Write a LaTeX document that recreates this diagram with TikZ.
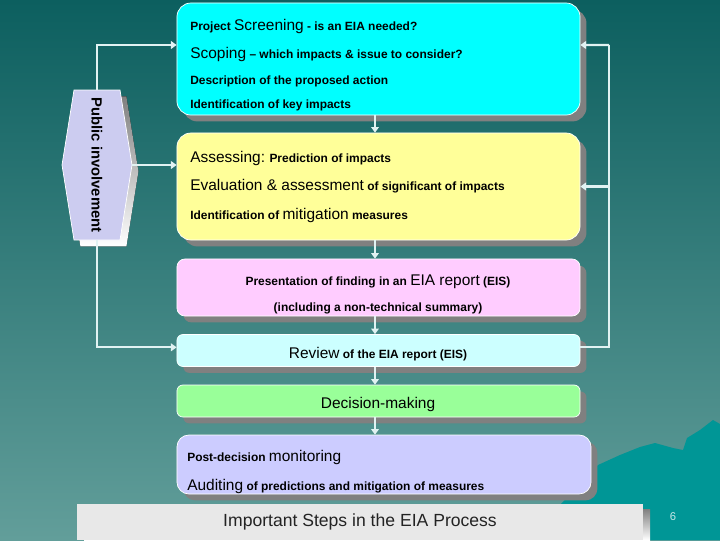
\documentclass[tikz,border=0pt]{standalone}
\usepackage{fontspec}
\setmainfont{Liberation Sans}
\usetikzlibrary{shadows,arrows.meta}

\definecolor{bgtop}{RGB}{12,95,95}
\definecolor{bgbot}{RGB}{98,158,154}
\definecolor{mount}{RGB}{0,150,150}
\definecolor{flowline}{RGB}{225,242,242}
\definecolor{shade}{RGB}{128,128,128}
\definecolor{scrcyan}{RGB}{0,255,255}
\definecolor{assyellow}{RGB}{255,255,153}
\definecolor{reppink}{RGB}{255,204,255}
\definecolor{revcyan}{RGB}{204,255,255}
\definecolor{decgreen}{RGB}{153,255,153}
\definecolor{monlav}{RGB}{204,204,255}
\definecolor{pubhex}{RGB}{204,204,240}
\definecolor{barbg}{RGB}{232,232,232}
\definecolor{titletext}{RGB}{35,35,35}
\definecolor{pagenum}{RGB}{200,232,232}

\newcommand{\eiasmall}{\fontsize{8.5}{10}\selectfont\bfseries}
\newcommand{\eiabig}[1]{{\fontsize{11}{13}\selectfont\mdseries #1}}

\begin{document}
\begin{tikzpicture}[x=0.025cm, y=-0.025cm,
    stepbox/.style={rectangle, draw=white, line width=0.5pt, rounded corners=#1, minimum width=10.075cm,
        drop shadow={shadow xshift=0.16cm, shadow yshift=-0.16cm, fill=shade, opacity=1}},
    stepbox/.default=0.3cm,
    txt/.style={anchor=base west, inner sep=0pt, font=\eiasmall},
    ctxt/.style={anchor=base, inner sep=0pt, font=\eiasmall},
    flow/.style={draw=flowline, line width=1.6pt, -{Triangle[length=4pt,width=5.5pt]}},
    link/.style={draw=flowline, line width=1.6pt}
]
\useasboundingbox (0,0) rectangle (720,540);

% Background and mountain
\fill[top color=bgtop, bottom color=bgbot] (0,0) rectangle (720,540);
\fill[mount] (560,505) -- (598,465) -- (620,455) -- (640,447) -- (655,443) -- (673,448)
    -- (683,450) -- (687,438) -- (700,430) -- (713,420) -- (720,424) -- (720,540) -- (560,540) -- cycle;

% Steps
\node[stepbox=0.35cm, fill=scrcyan, minimum height=2.8cm] (scr) at (378.5,59) {};
\node[stepbox=0.35cm, fill=assyellow, minimum height=2.675cm] (ass) at (378.5,186.5) {};
\node[stepbox=0.2cm, fill=reppink, minimum height=1.425cm] (rep) at (378.5,287.5) {};
\node[stepbox=0.15cm, fill=revcyan, minimum height=0.8cm] (rev) at (378.5,350.5) {};
\node[stepbox=0.15cm, fill=decgreen, minimum height=0.8cm] (dec) at (378.5,401) {};
\node[stepbox=0.3cm, fill=monlav, minimum width=10.35cm, minimum height=1.475cm] (mon) at (384,464.5) {};

% Texts of the steps
\node[txt] (scr1) at (190,30) {Project \eiabig{Screening} - is an EIA needed?};
\node[txt] (scr2) at (190,58) {\eiabig{Scoping} -- which impacts \& issue to consider?};
\node[txt] (scr3) at (190,84.5) {Description of the proposed action};
\node[txt] (scr4) at (190,108.5) {Identification of key impacts};
\node[txt] (ass1) at (190,162) {\eiabig{Assessing:} Prediction of impacts};
\node[txt] (ass2) at (190,190.5) {\eiabig{Evaluation \& assessment} of significant of impacts};
\node[txt] (ass3) at (190,219.5) {Identification of \eiabig{mitigation} measures};
\node[ctxt] (rep1) at (378,285) {Presentation of finding in an \eiabig{EIA report} (EIS)};
\node[ctxt] (rep2) at (378,311) {(including a non-technical summary)};
\node[ctxt] (rev1) at (378,358.5) {\eiabig{Review} of the EIA report (EIS)};
\node[ctxt] (dec1) at (378,408) {\eiabig{Decision-making}};
\node[txt] (mon1) at (187,461) {Post-decision \eiabig{monitoring}};
\node[txt] (mon2) at (187,490) {\eiabig{Auditing} of predictions and mitigation of measures};

% Public involvement
\fill[shade, xshift=0.16cm, yshift=-0.16cm] (74,90) -- (120,90) -- (132,165) -- (120,240) -- (74,240) -- (62,165) -- cycle;
\filldraw[fill=pubhex, draw=white, line width=0.5pt] (74,90) -- (120,90) -- (132,165) -- (120,240) -- (74,240) -- (62,165) -- cycle;
\node[inner sep=0pt, minimum width=1.75cm, minimum height=3.75cm, font=\fontsize{10.5}{12}\selectfont\bfseries] (pub) at (97,165)
    {\rotatebox{-90}{Public involvement}};

% Arrows down the spine
\coordinate (spine) at (375,0);
\draw[flow] (scr.south -| spine) -- (ass.north -| spine);
\draw[flow] (ass.south -| spine) -- (rep.north -| spine);
\draw[flow] (rep.south -| spine) -- (rev.north -| spine);
\draw[flow] (rev.south -| spine) -- (dec.north -| spine);
\draw[flow] (dec.south -| spine) -- (mon.north -| spine);

% Public involvement links
\draw[flow] (pub.north) |- ([yshift=0.35cm]scr.west);
\draw[flow] (pub.east) -- (pub.east -| ass.west);
\draw[flow] (pub.south) |- ([yshift=0.08cm]rev.west);

% Feedback from review
\coordinate (rbus) at (609,45);
\draw[link] ([yshift=0.08cm]rev.east) -| (rbus);
\draw[flow] (rbus) -- ([yshift=0.35cm]scr.east);
\draw[flow] (rbus |- ass.east) -- (ass.east);

% Title bar
\fill[shade] (84,509) rectangle (650,540);
\node[fill=barbg, minimum width=14.15cm, minimum height=0.9cm, inner sep=0pt, text=titletext,
    font=\fontsize{12.5}{14}\selectfont] (title) at (360,522) {Important Steps in the EIA Process};
\node[text=pagenum, font=\fontsize{8}{10}\selectfont] (pgno) at (673,517) {6};

\end{tikzpicture}
\end{document}
